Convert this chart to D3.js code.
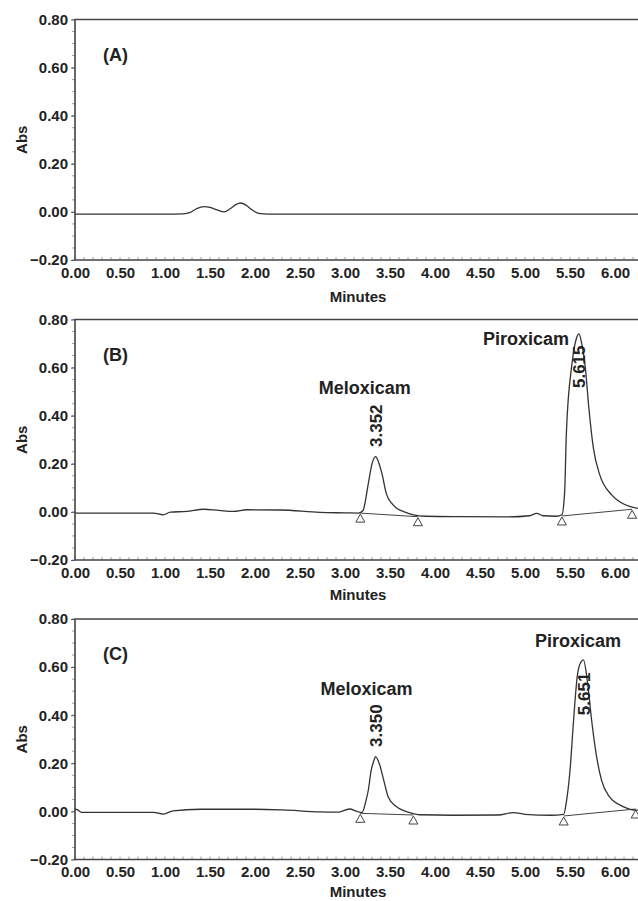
<!DOCTYPE html>
<html>
<head>
<meta charset="utf-8">
<script src="https://cdn.jsdelivr.net/npm/d3@7"></script>
<style>
  body { margin: 0; background: #fff; }
  svg { display: block; }
  text { font-family: "Liberation Sans", Arial, sans-serif; font-weight: bold; fill: #222; }
</style>
</head>
<body>
<div id="chart"></div>
<script>
// tick values
const xTicks = [0, 0.5, 1, 1.5, 2, 2.5, 3, 3.5, 4, 4.5, 5, 5.5, 6];
const yTicks = [-0.2, 0, 0.2, 0.4, 0.6, 0.8];

// traces: [minutes, abs]
const traceA = [
  [0, -0.009], [0.5, -0.009], [1.0, -0.009], [1.2, -0.008], [1.28, -0.002], [1.35, 0.013],
  [1.43, 0.022], [1.5, 0.019], [1.58, 0.008], [1.66, 0.0], [1.72, 0.012], [1.79, 0.031],
  [1.84, 0.037], [1.9, 0.028], [1.96, 0.01], [2.04, -0.006], [2.15, -0.009], [2.6, -0.009],
  [3.5, -0.009], [4.5, -0.009], [5.5, -0.009], [6.4, -0.009]
];
const traceB = [
  [0, -0.005], [0.5, -0.005], [0.87, -0.005], [0.98, -0.012], [1.06, -0.001], [1.24, 0.002],
  [1.43, 0.011], [1.6, 0.006], [1.76, 0.002], [1.91, 0.009], [2.28, 0.008], [2.72, -0.002],
  [3.0, -0.004], [3.15, -0.005], [3.2, 0.006], [3.26, 0.12], [3.3, 0.2], [3.34, 0.23],
  [3.37, 0.21], [3.41, 0.16], [3.46, 0.075], [3.52, 0.035], [3.57, 0.016], [3.66, 0.0],
  [3.76, -0.012], [3.9, -0.018], [4.3, -0.02], [4.8, -0.021], [5.05, -0.016], [5.13, -0.006],
  [5.2, -0.016], [5.35, -0.018], [5.41, -0.012], [5.44, 0.08], [5.46, 0.33], [5.52, 0.61],
  [5.57, 0.72], [5.6, 0.74], [5.63, 0.7], [5.67, 0.6], [5.71, 0.43], [5.76, 0.265],
  [5.83, 0.155], [5.96, 0.072], [6.06, 0.04], [6.17, 0.022], [6.3, 0.014], [6.4, 0.014]
];
const traceC = [
  [0, 0.009], [0.03, 0.006], [0.07, -0.004], [0.5, -0.004], [0.87, -0.004], [0.98, -0.011],
  [1.09, 0.002], [1.39, 0.009], [2.0, 0.009], [2.31, 0.006], [2.72, -0.002], [2.92, -0.003],
  [3.05, 0.01], [3.14, -0.001], [3.19, -0.004], [3.23, 0.04], [3.26, 0.09], [3.29, 0.17],
  [3.32, 0.21], [3.34, 0.228], [3.38, 0.2], [3.43, 0.13], [3.48, 0.06], [3.57, 0.02],
  [3.72, -0.005], [3.83, -0.014], [4.2, -0.016], [4.7, -0.015], [4.87, -0.005], [5.0, -0.012],
  [5.29, -0.016], [5.43, -0.012], [5.46, 0.04], [5.5, 0.17], [5.54, 0.38], [5.58, 0.56],
  [5.62, 0.62], [5.65, 0.63], [5.69, 0.55], [5.74, 0.38], [5.79, 0.24], [5.85, 0.13],
  [5.94, 0.06], [6.09, 0.02], [6.24, 0.005], [6.4, 0.005]
];

// peak annotations
const peakNames = ["Meloxicam", "Piroxicam"];
const retTimesB = ["3.352", "5.615"];
const retTimesC = ["3.350", "5.651"];
const peakAtB = [3.34, 5.60];
const peakAtC = [3.34, 5.65];

// integration start/end marks [minutes, abs]
const marksB = [[3.17, -0.005], [3.81, -0.02], [5.41, -0.017], [6.19, 0.011]];
const marksC = [[3.17, -0.008], [3.76, -0.015], [5.43, -0.019], [6.23, 0.01]];

const W = 638, H = 901;
const left = 75, right = 645;
const plotH = 240.5;

const svg = d3.select("#chart").append("svg")
  .attr("width", W)
  .attr("height", H);

const x = d3.scaleLinear()
  .domain([0, (right - left) / 90])
  .range([left, right]);

const panels = [
  {id: "(A)", top: 19.5, trace: traceA, minY: 42},
  {id: "(B)", top: 319.5, trace: traceB, minY: 40, marks: marksB, times: retTimesB, peaks: peakAtB,
    nameAt: [[3.22, 394], [5.01, 345]], timeStart: [0.27, 0.515]},
  {id: "(C)", top: 619, trace: traceC, minY: 37.5, marks: marksC, times: retTimesC, peaks: peakAtC,
    nameAt: [[3.24, 695], [5.59, 647]], timeStart: [0.268, 0.40]}
];

panels.forEach(function(p) {
  const bottom = p.top + plotH;
  const y = d3.scaleLinear().domain([-0.2, 0.8]).range([bottom, p.top]);
  const g = svg.append("g");

  // minor ticks
  g.selectAll("line.xminor").data(d3.range(0, 64).map(function(i) { return i / 10; })).enter()
    .append("line")
    .attr("x1", function(d) { return x(d); })
    .attr("x2", function(d) { return x(d); })
    .attr("y1", bottom)
    .attr("y2", bottom - 3)
    .attr("stroke", "#888")
    .attr("stroke-width", 0.8);
  g.selectAll("line.yminor").data(d3.range(-4, 17).map(function(i) { return i * 0.05; })).enter()
    .append("line")
    .attr("x1", left)
    .attr("x2", left - 3)
    .attr("y1", function(d) { return y(d); })
    .attr("y2", function(d) { return y(d); })
    .attr("stroke", "#888")
    .attr("stroke-width", 0.8);

  // frame: left, top, bottom
  g.append("path")
    .attr("d", "M" + right + "," + p.top + "H" + left + "V" + bottom + "H" + right)
    .attr("fill", "none")
    .attr("stroke", "#444")
    .attr("stroke-width", 1.6);

  // y axis
  const yAxis = g.append("g")
    .attr("transform", "translate(" + left + ",0)")
    .call(d3.axisLeft(y).tickValues(yTicks).tickSize(4).tickPadding(3)
      .tickFormat(d3.format(".2f")));
  yAxis.select(".domain").remove();
  yAxis.selectAll("line").attr("stroke", "#555");
  yAxis.selectAll("text")
    .style("font-size", "15px")
    .style("font-family", "'Liberation Sans', Arial, sans-serif")
    .style("font-weight", "bold")
    .attr("fill", "#222");

  // x axis
  const xAxis = g.append("g")
    .attr("transform", "translate(0," + bottom + ")")
    .call(d3.axisBottom(x).tickValues(xTicks).tickSize(0).tickPadding(7)
      .tickFormat(d3.format(".2f")));
  xAxis.select(".domain").remove();
  xAxis.selectAll("text")
    .style("font-size", "15px")
    .style("font-family", "'Liberation Sans', Arial, sans-serif")
    .style("font-weight", "bold")
    .attr("fill", "#222");

  // axis titles
  g.append("text")
    .attr("x", 358)
    .attr("y", bottom + p.minY)
    .attr("text-anchor", "middle")
    .style("font-size", "15px")
    .text("Minutes");
  g.append("text")
    .attr("transform", "translate(27," + (p.top + plotH / 2) + ") rotate(-90)")
    .attr("text-anchor", "middle")
    .style("font-size", "15px")
    .text("Abs");

  // panel letter
  g.append("text")
    .attr("x", 103)
    .attr("y", p.top + 41)
    .style("font-size", "18px")
    .text(p.id);

  // integration baselines
  if (p.marks) {
    [[0, 1], [2, 3]].forEach(function(pair) {
      const a = p.marks[pair[0]], b = p.marks[pair[1]];
      g.append("line")
        .attr("x1", x(a[0])).attr("y1", y(a[1]))
        .attr("x2", x(b[0])).attr("y2", y(b[1]))
        .attr("stroke", "#444")
        .attr("stroke-width", 1);
    });
  }

  // the trace
  g.append("path")
    .datum(p.trace)
    .attr("fill", "none")
    .attr("stroke", "#333")
    .attr("stroke-width", 1.3)
    .attr("d", d3.line()
      .x(function(d) { return x(d[0]); })
      .y(function(d) { return y(d[1]); })
      .curve(d3.curveMonotoneX));

  if (p.marks) {
    g.selectAll("path.mark").data(p.marks).enter()
      .append("path")
      .attr("d", function(d) {
        const cx = x(d[0]), cy = y(d[1]) + 1;
        return "M" + cx + "," + cy + "L" + (cx - 4.5) + "," + (cy + 8) + "L" + (cx + 4.5) + "," + (cy + 8) + "Z";
      })
      .attr("fill", "#fff")
      .attr("stroke", "#444")
      .attr("stroke-width", 1);

    peakNames.forEach(function(name, i) {
      // peak names
      g.append("text")
        .attr("x", x(p.nameAt[i][0]))
        .attr("y", p.nameAt[i][1])
        .attr("text-anchor", "middle")
        .style("font-size", "18px")
        .text(name);

      // retention time, rotated
      g.append("text")
        .attr("transform", "translate(" + (x(p.peaks[i]) + 6) + "," + y(p.timeStart[i]) + ") rotate(-90)")
        .attr("text-anchor", "start")
        .style("font-size", "17px")
        .text(p.times[i]);
    });
  }
});
</script>
</body>
</html>
